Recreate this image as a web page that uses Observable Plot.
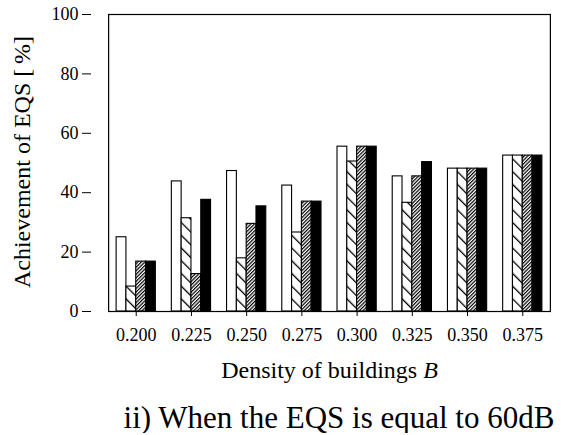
<!DOCTYPE html>
<html>
<head>
<meta charset="utf-8">
<script src="https://cdn.jsdelivr.net/npm/d3@7"></script>
<script src="https://cdn.jsdelivr.net/npm/@observablehq/plot@0.6"></script>
<style>
  body { margin: 0; background: #fff; }
  #chart svg { display: block; background: #fff; }
  #cap { font-family: "Liberation Serif", "Times New Roman", serif; font-size: 31px; line-height: 31px;
         color: #000; width: 570px; box-sizing: border-box; padding-left: 108px; text-align: center; margin-top: 12px; white-space: nowrap; }
</style>
</head>
<body>
<div id="chart"></div>
<div id="cap">ii) When the EQS is equal to 60dB</div>
<script>
// Data
const densities = ["0.200", "0.225", "0.250", "0.275", "0.300", "0.325", "0.350", "0.375"];
const seriesNames = ["white", "backHatch", "fwdHatch", "black"];
const whiteVals     = [25.0, 43.8, 47.3, 42.4, 55.5, 45.5, 48.1, 52.5];
const backHatchVals = [ 8.4, 31.4, 17.9, 26.6, 50.5, 36.6, 48.1, 52.5];
const fwdHatchVals  = [16.8, 12.6, 29.5, 37.0, 55.5, 45.5, 48.1, 52.5];
const blackVals     = [16.8, 37.6, 35.4, 37.0, 55.5, 50.3, 48.1, 52.5];
const yTicks = [0, 20, 40, 60, 80, 100];
const yLabel = "Achievement of EQS [\u2009%]";
const xLabel = "Density of buildings B";

const seriesValues = [whiteVals, backHatchVals, fwdHatchVals, blackVals];
const fills = ["white", "url(#hatchBack)", "url(#hatchFwd)", "black"];

const data = densities.flatMap((d, i) =>
  seriesNames.map((s, k) => ({density: d, series: s, value: seriesValues[k][i]}))
);

const font = '"Liberation Serif", "Times New Roman", serif';
const W = 570, mL = 91, mR = 3;
const fxPadOuter = 0.31;
const fxStep = (W - mL - mR) / (densities.length + 2 * fxPadOuter);
const axisShift = -fxPadOuter * fxStep; // move the y axis from the first facet to the frame edge

const chart = Plot.plot({
  width: W,
  height: 390,
  marginLeft: mL,
  marginRight: mR,
  marginTop: 14,
  marginBottom: 79,
  style: {fontFamily: font, fontSize: "18px", color: "black", background: "white"},
  fx: {domain: densities, paddingInner: 0, paddingOuter: fxPadOuter, round: false, axis: "bottom", label: null, tickSize: 5, tickPadding: 12},
  x: {domain: seriesNames, axis: null, paddingInner: 0, paddingOuter: 0, round: false, insetLeft: 8, insetRight: 8},
  y: {domain: [0, 100], axis: null},
  color: {domain: seriesNames, range: fills},
  marks: [
    Plot.barY(data, {fx: "density", x: "series", y: "value", fill: "series", stroke: "black", strokeWidth: 1.1}),
    Plot.frame({facet: "super", stroke: "black", strokeWidth: 1.2}),
    Plot.axisY({ticks: yTicks, tickSize: 9, tickPadding: 4, label: null, fontSize: 18, dx: axisShift}),
    Plot.text([yLabel], {facet: "super", frameAnchor: "left", textAnchor: "middle", lineAnchor: "middle", rotate: -90, dx: -86, dy: -1, fontSize: 24}),
    Plot.text([xLabel], {facet: "super", frameAnchor: "bottom", dy: 66, fontSize: 24})
  ]
});

// hatch patterns
const svg = d3.select(chart.tagName.toLowerCase() === "svg" ? chart : chart.querySelector("svg"));
const defs = svg.insert("defs", ":first-child");
const pBack = defs.append("pattern").attr("id", "hatchBack").attr("patternUnits", "userSpaceOnUse")
  .attr("width", 9).attr("height", 9).attr("patternTransform", "rotate(-45)");
pBack.append("rect").attr("width", 9).attr("height", 9).attr("fill", "white");
pBack.append("rect").attr("x", 0).attr("width", 1.3).attr("height", 9).attr("fill", "black");
const pFwd = defs.append("pattern").attr("id", "hatchFwd").attr("patternUnits", "userSpaceOnUse")
  .attr("width", 2.5).attr("height", 6).attr("patternTransform", "rotate(45)");
pFwd.append("rect").attr("width", 2.5).attr("height", 6).attr("fill", "white");
pFwd.append("rect").attr("x", 0).attr("width", 1.2).attr("height", 6).attr("fill", "black");

// italic B in x label
svg.selectAll("text").each(function() {
  if (this.textContent === xLabel) {
    const t = d3.select(this);
    t.text("Density of buildings ");
    t.append("tspan").attr("font-style", "italic").text("B");
  }
});

document.getElementById("chart").appendChild(chart);
</script>
</body>
</html>
